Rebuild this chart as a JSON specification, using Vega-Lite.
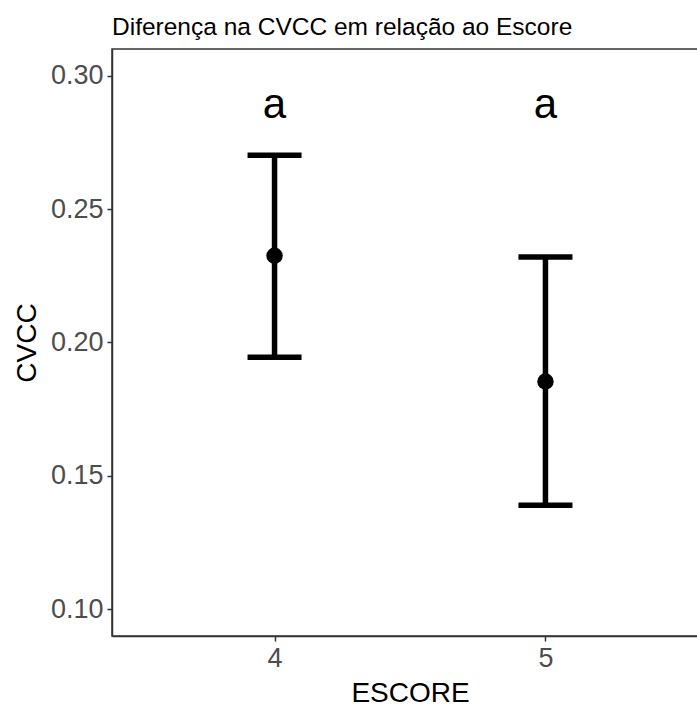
{
  "$schema": "https://vega.github.io/schema/vega-lite/v6.json",
  "autosize": "none",
  "width": 596,
  "height": 587,
  "padding": {"left": 112, "top": 49, "right": 0, "bottom": 70},
  "background": "white",
  "config": {
    "font": "Liberation Sans",
    "view": {"stroke": "#333333", "strokeWidth": 1.5},
    "axis": {"grid": false, "domainColor": "#333333", "domainWidth": 1.5, "tickColor": "#333333", "tickWidth": 1.5, "tickSize": 5, "labelColor": "#4D4D4D", "labelFontSize": 27, "labelPadding": 4, "titleColor": "#000000", "titleFontSize": 28, "titleFontWeight": "normal"}
  },
  "title": {"text": "Diferença na CVCC em relação ao Escore", "anchor": "start", "fontSize": 24.5, "fontWeight": "normal", "color": "#000000", "offset": 9, "frame": "group"},
  "data": {"values": [
    {"ESCORE": 4, "CVCC": 0.2325, "lower": 0.1945, "upper": 0.2702, "label": "a", "labelY": 0.284},
    {"ESCORE": 5, "CVCC": 0.1854, "lower": 0.139, "upper": 0.232, "label": "a", "labelY": 0.284}
  ]},
  "layer": [
    {
      "mark": {"type": "errorbar", "color": "black", "opacity": 1, "thickness": 5.5, "ticks": {"size": 54, "thickness": 5.5, "color": "black", "opacity": 1}, "rule": {"opacity": 1, "strokeWidth": 5.5}},
      "encoding": {
        "x": {"field": "ESCORE", "type": "quantitative", "scale": {"domain": [3.4, 5.6], "nice": false, "zero": false}, "axis": {"values": [4, 5], "format": "d", "title": "ESCORE", "titlePadding": 8}},
        "y": {"field": "lower", "type": "quantitative", "scale": {"domain": [0.09, 0.31], "nice": false, "zero": false}, "axis": {"values": [0.1, 0.15, 0.2, 0.25, 0.3], "format": ".2f", "title": "CVCC", "titlePadding": 9}},
        "y2": {"field": "upper"}
      }
    },
    {
      "mark": {"type": "point", "filled": true, "color": "black", "size": 270, "opacity": 1},
      "encoding": {
        "x": {"field": "ESCORE", "type": "quantitative"},
        "y": {"field": "CVCC", "type": "quantitative"}
      }
    },
    {
      "mark": {"type": "text", "fontSize": 42, "color": "black", "baseline": "alphabetic", "align": "center"},
      "encoding": {
        "x": {"field": "ESCORE", "type": "quantitative"},
        "y": {"field": "labelY", "type": "quantitative"},
        "text": {"field": "label"}
      }
    }
  ]
}
